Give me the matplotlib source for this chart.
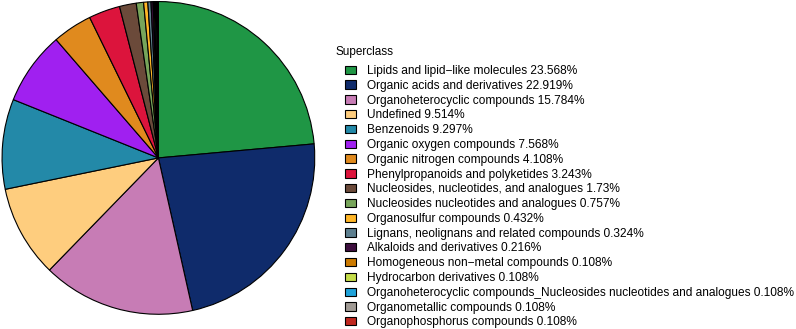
import matplotlib
matplotlib.use("Agg")
import matplotlib.pyplot as plt
from matplotlib.patches import Patch

plt.rcParams['font.family'] = ['Liberation Sans', 'DejaVu Sans']

labels = [
    "Lipids and lipid\u2212like molecules",
    "Organic acids and derivatives",
    "Organoheterocyclic compounds",
    "Undefined",
    "Benzenoids",
    "Organic oxygen compounds",
    "Organic nitrogen compounds",
    "Phenylpropanoids and polyketides",
    "Nucleosides, nucleotides, and analogues",
    "Nucleosides nucleotides and analogues",
    "Organosulfur compounds",
    "Lignans, neolignans and related compounds",
    "Alkaloids and derivatives",
    "Homogeneous non\u2212metal compounds",
    "Hydrocarbon derivatives",
    "Organoheterocyclic compounds_Nucleosides nucleotides and analogues",
    "Organometallic compounds",
    "Organophosphorus compounds",
]
pct_text = ["23.568", "22.919", "15.784", "9.514", "9.297", "7.568", "4.108", "3.243",
            "1.73", "0.757", "0.432", "0.324", "0.216", "0.108", "0.108", "0.108",
            "0.108", "0.108"]
values = [float(v) for v in pct_text]
colors = ["#1F9645", "#0F2B6B", "#C77CB5", "#FECD7E", "#2389A8", "#A020F0",
          "#E08A1E", "#DC143C", "#6B4A3A", "#77A55A", "#FFB627", "#5D7F8F",
          "#3D0E3E", "#CC7A00", "#C5DD4A", "#1FA2D9", "#A09A94", "#C0281F"]

W, H = 796, 329
fig = plt.figure(figsize=(W / 100, H / 100), dpi=100)
ax = fig.add_axes([0.0, 0.04, 0.398, 0.96])
ax.pie(values, colors=colors, startangle=90, counterclock=False,
       wedgeprops=dict(edgecolor="black", linewidth=0.8))
ax.set_aspect("equal")
ax.set_xlim(-1.01, 1.01)
ax.set_ylim(-1.01, 1.01)
ax.axis("off")

fig.text(335 / W, 1 - 51.5 / H, "Superclass", fontsize=8.5, ha="left", va="center")

handles = [Patch(facecolor=c, edgecolor="black", linewidth=0.8) for c in colors]
leg_labels = [f"{l} {p}%" for l, p in zip(labels, pct_text)]
leg = fig.legend(handles, leg_labels, loc="upper left",
                 bbox_to_anchor=(345 / W, 1 - 65 / H), frameon=False, fontsize=8.55,
                 handlelength=0.9, handleheight=0.7, borderpad=0,
                 labelspacing=0.235, handletextpad=0.95, borderaxespad=0)

fig.savefig("out.png", dpi=100)
